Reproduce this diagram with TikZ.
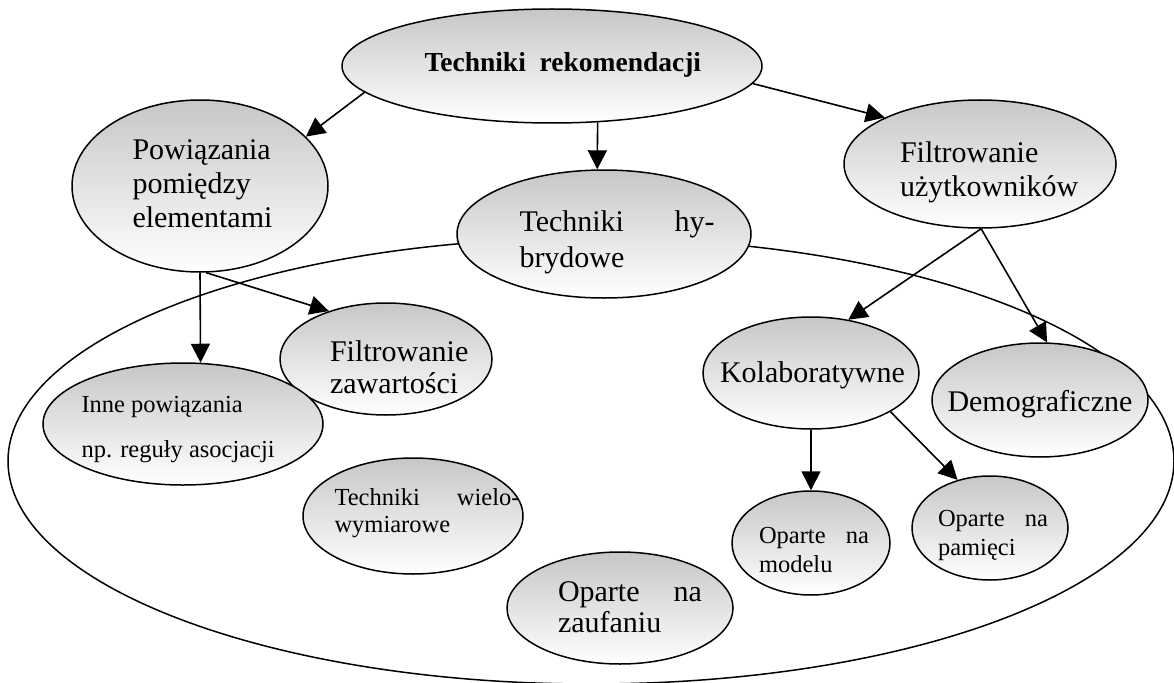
\documentclass[tikz,border=0pt]{standalone}
\usepackage{fontspec}
\setmainfont{Liberation Serif}
\usetikzlibrary{shapes.geometric,arrows.meta}
% #1 right shift x2, #2 downward shift, #3 width, #4 size, #5 skip, #6 text
\newcommand\btext[6]{\makebox[0pt]{\smash{\hspace*{#1}\raisebox{-#2}{\parbox[c]{#3}{\fontsize{#4}{#5}\selectfont #6}}}}}
\tikzset{
  blob/.style={ellipse, draw, line width=1.5pt, top color=black!22, bottom color=white, inner sep=0pt},
  arr/.style={-{Triangle[length=19pt,width=19pt]}, line width=1.6pt},
  outer/.style={ellipse, draw, line width=1.5pt, inner sep=0pt}
}
\begin{document}
\begin{tikzpicture}[x=1pt,y=-1pt]
\useasboundingbox (0,0) rectangle (1174,682);
\fill[white] (0,0) rectangle (1174,682);
% big enclosing ellipse
\node[outer, minimum width=1166pt, minimum height=446pt] (big) at (591,461) {};
% nodes
\node[blob, minimum width=420pt, minimum height=114pt] (root) at (552,66)
  {\btext{30pt}{1pt}{285pt}{27.5}{33}{\bfseries Techniki\ \ rekomendacji}};
\node[blob, minimum width=256pt, minimum height=172pt] (pow) at (200,186)
  {\btext{10pt}{0pt}{145pt}{30}{34}{Powiązania\\pomiędzy\\elementami}};
\node[blob, minimum width=212pt, minimum height=112pt] (fz) at (386,359)
  {\btext{30pt}{11pt}{142pt}{30}{32}{Filtrowanie\\zawartości}};
\node[blob, minimum width=280pt, minimum height=122pt] (inne) at (183,424)
  {\btext{-8pt}{8pt}{195pt}{24.5}{45}{Inne powiązania\\np. reguły asocjacji}};
\node[blob, minimum width=294pt, minimum height=128pt] (hyb) at (604,234)
  {\btext{26pt}{11pt}{195pt}{30}{36}{Techniki\hfill hy-\\brydowe}};
\node[blob, minimum width=272pt, minimum height=128pt] (fu) at (980,164)
  {\btext{22pt}{11pt}{182pt}{30}{34}{Filtrowanie\\użytkowników}};
\node[blob, minimum width=216pt, minimum height=112pt] (kol) at (811,373)
  {\btext{8pt}{5pt}{190pt}{30}{34}{Kolaboratywne}};
\node[blob, minimum width=216pt, minimum height=114pt] (demo) at (1040,400)
  {\btext{5pt}{7pt}{190pt}{30}{34}{Demograficzne}};
\node[blob, minimum width=220pt, minimum height=116pt] (wiel) at (413,516)
  {\btext{28pt}{0pt}{185pt}{24.5}{27}{Techniki\hfill wielo-\\wymiarowe}};
\node[blob, minimum width=226pt, minimum height=112pt] (zauf) at (620,608)
  {\btext{20pt}{2pt}{144pt}{30}{31}{Oparte\hfill na\\zaufaniu}};
\node[blob, minimum width=158pt, minimum height=104pt] (model) at (811,543)
  {\btext{6pt}{10pt}{110pt}{24.5}{29}{Oparte\hfill na\\modelu}};
\node[blob, minimum width=156pt, minimum height=104pt] (pam) at (990,528)
  {\btext{6pt}{10pt}{110pt}{24.5}{29}{Oparte\hfill na\\pamięci}};
% connectors
\draw[arr] (root.188) -- (pow.25);
\draw[arr] (root.-51) -- (hyb.96);
\draw[arr] (root.-5) -- (fu.154);
\draw[arr] (pow.south) -- (inne.74);
\draw[arr] (pow.-86) -- (fz.140);
\draw[arr] (fu.-89) -- (kol.55);
\draw[arr] (fu.-89) -- (demo.83);
\draw[arr] (kol.south) -- (model.north);
\draw[arr] (kol.-26) -- (pam.124);
\end{tikzpicture}
\end{document}
